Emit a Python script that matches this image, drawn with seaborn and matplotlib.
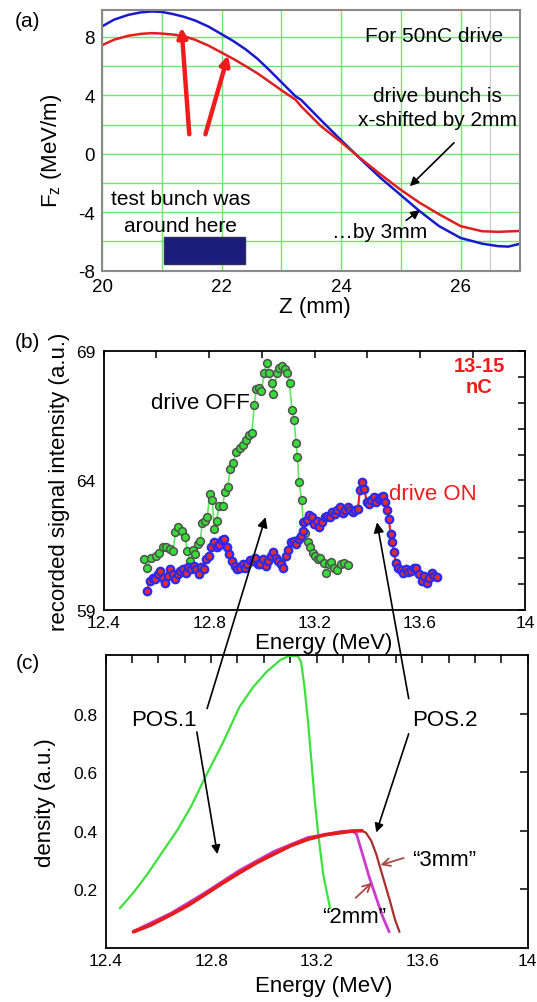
import matplotlib
matplotlib.use("Agg")
import matplotlib.pyplot as plt
from matplotlib.patches import ConnectionPatch, Rectangle
from matplotlib.ticker import MultipleLocator, FixedLocator, FormatStrFormatter
import seaborn as sns

# ---------- (a) longitudinal field vs z ----------
z_3mm = [20.0, 20.2, 20.44, 20.65, 20.83, 21.0, 21.17, 21.36, 21.56, 21.78, 22.0, 22.2,
         22.4, 22.6, 22.79, 23.0, 23.24, 23.33, 23.66, 24.0, 24.32, 24.65, 24.98, 25.31,
         25.64, 26.0, 26.36, 26.63, 26.8, 27.0]
fz_3mm = [8.71, 9.17, 9.50, 9.67, 9.73, 9.70, 9.57, 9.38, 9.11, 8.70, 8.18, 7.70,
          7.15, 6.50, 5.76, 4.90, 3.92, 3.69, 2.31, 0.93, -0.34, -1.61, -2.76, -3.91,
          -4.95, -5.76, -6.15, -6.32, -6.35, -6.15]
z_2mm = [20.0, 20.2, 20.44, 20.65, 20.83, 21.0, 21.22, 21.4, 21.56, 21.78, 22.0, 22.2,
         22.4, 22.6, 22.79, 23.0, 23.24, 23.33, 23.66, 24.0, 24.32, 24.65, 24.98, 25.31,
         25.64, 26.0, 26.36, 26.63, 26.88, 27.0]
fz_2mm = [7.42, 7.80, 8.07, 8.20, 8.25, 8.22, 8.14, 8.00, 7.79, 7.40, 6.92, 6.48,
          6.00, 5.50, 4.96, 4.35, 3.69, 3.25, 1.90, 0.80, -0.30, -1.38, -2.41, -3.34,
          -4.14, -4.95, -5.30, -5.34, -5.30, -5.28]

# ---------- (b) measured spectra ----------
e_off = [12.552, 12.565, 12.578, 12.598, 12.611, 12.624, 12.637, 12.650, 12.663, 12.672,
         12.682, 12.695, 12.708, 12.717, 12.728, 12.737, 12.747, 12.758, 12.767, 12.773,
         12.784, 12.793, 12.802, 12.812, 12.819, 12.828, 12.838, 12.851, 12.860, 12.871,
         12.880, 12.890, 12.903, 12.916, 12.929, 12.940, 12.952, 12.962, 12.971, 12.979,
         12.988, 12.997, 13.010, 13.018, 13.027, 13.037, 13.044, 13.057, 13.066, 13.075,
         13.086, 13.096, 13.105, 13.114, 13.122, 13.130, 13.135, 13.141, 13.151, 13.157,
         13.164, 13.174, 13.183, 13.193, 13.203, 13.213, 13.222, 13.235, 13.244, 13.255,
         13.264, 13.274, 13.287, 13.300, 13.313, 13.326]
s_off = [60.98, 60.63, 60.99, 61.08, 61.21, 61.41, 61.43, 61.34, 61.28, 61.99,
         62.21, 62.06, 61.82, 61.28, 60.89, 61.30, 61.15, 61.56, 61.67, 62.34,
         62.45, 62.58, 63.49, 63.23, 62.12, 62.45, 63.03, 63.03, 63.55, 63.75,
         64.46, 64.66, 65.11, 65.24, 65.37, 65.57, 65.76, 65.83, 66.93, 67.52,
         67.58, 67.45, 68.17, 68.56, 68.17, 67.78, 67.36, 68.17, 68.36, 68.43,
         68.32, 68.14, 67.78, 66.74, 66.35, 65.44, 64.92, 63.94, 63.23, 62.38,
         61.95, 61.60, 61.41, 61.21, 61.08, 60.95, 60.99, 60.82, 60.43, 60.76,
         60.86, 60.63, 60.52, 60.76, 60.82, 60.73]

e_on = [12.565, 12.574, 12.585, 12.594, 12.604, 12.613, 12.624, 12.634, 12.643, 12.652,
        12.663, 12.672, 12.682, 12.691, 12.702, 12.711, 12.721, 12.730, 12.741, 12.750,
        12.760, 12.769, 12.780, 12.789, 12.799, 12.808, 12.819, 12.828, 12.838, 12.849,
        12.858, 12.867, 12.877, 12.888, 12.898, 12.907, 12.916, 12.927, 12.936, 12.945,
        12.955, 12.965, 12.975, 12.984, 12.994, 13.005, 13.014, 13.023, 13.033, 13.043,
        13.053, 13.062, 13.073, 13.082, 13.092, 13.101, 13.112, 13.121, 13.131, 13.140,
        13.148, 13.157, 13.161, 13.170, 13.180, 13.190, 13.199, 13.209, 13.218, 13.229,
        13.239, 13.248, 13.257, 13.268, 13.277, 13.287, 13.298, 13.307, 13.317, 13.326,
        13.335, 13.346, 13.355, 13.365, 13.372, 13.381, 13.389, 13.398, 13.407, 13.415,
        13.424, 13.433, 13.443, 13.452, 13.460, 13.469, 13.476, 13.482, 13.489, 13.495,
        13.502, 13.508, 13.517, 13.528, 13.537, 13.547, 13.556, 13.567, 13.576, 13.586,
        13.595, 13.606, 13.615, 13.625, 13.634, 13.645, 13.654, 13.664]
s_on = [59.74, 60.11, 60.24, 60.17, 60.37, 60.50, 60.24, 60.04, 60.30, 60.56,
        60.37, 60.17, 60.37, 60.50, 60.56, 60.43, 60.65, 60.56, 60.69, 60.56,
        60.37, 60.65, 60.56, 60.95, 61.08, 61.41, 61.60, 61.41, 61.51, 61.69,
        61.73, 61.41, 61.15, 60.89, 60.69, 60.56, 60.60, 60.76, 60.63, 60.78,
        60.91, 60.89, 60.99, 60.78, 60.76, 60.95, 60.69, 60.89, 61.08, 61.25,
        60.99, 60.89, 60.78, 60.63, 61.08, 61.30, 61.60, 61.67, 61.54, 61.73,
        61.86, 62.03, 62.38, 62.47, 62.68, 62.58, 62.32, 62.42, 62.21, 62.38,
        62.58, 62.64, 62.58, 62.77, 62.71, 62.84, 62.97, 62.73, 62.84, 62.99,
        62.84, 62.77, 62.86, 62.90, 63.64, 63.94, 63.68, 63.16, 63.10, 63.23,
        63.36, 63.16, 63.29, 63.36, 63.38, 63.16, 62.84, 62.49, 61.93, 61.60,
        61.25, 60.82, 60.63, 60.52, 60.43, 60.56, 60.47, 60.50, 60.63, 60.60,
        60.39, 60.11, 60.30, 60.04, 60.24, 60.43, 60.30, 60.26]

# ---------- (c) simulated densities ----------
e_pos1 = [12.454, 12.506, 12.558, 12.610, 12.675, 12.726, 12.778, 12.843, 12.908, 12.960,
          13.011, 13.063, 13.096, 13.128, 13.141, 13.154, 13.167, 13.180, 13.193, 13.206,
          13.225, 13.251]
d_pos1 = [0.135, 0.189, 0.251, 0.320, 0.406, 0.486, 0.583, 0.697, 0.823, 0.891,
          0.943, 0.983, 0.997, 0.997, 0.977, 0.891, 0.777, 0.640, 0.503, 0.389,
          0.251, 0.135]
e_c3 = [12.506, 12.571, 12.649, 12.714, 12.778, 12.843, 12.908, 12.973, 13.037, 13.102,
        13.167, 13.232, 13.296, 13.335, 13.372, 13.387, 13.407, 13.426, 13.452, 13.478,
        13.497, 13.514]
d_c3 = [0.055, 0.078, 0.114, 0.146, 0.183, 0.221, 0.257, 0.291, 0.320, 0.349,
        0.371, 0.386, 0.394, 0.399, 0.400, 0.393, 0.366, 0.320, 0.240, 0.160,
        0.097, 0.055]
e_c2 = [12.506, 12.649, 12.778, 12.908, 13.037, 13.167, 13.296, 13.335, 13.351, 13.374,
        13.400, 13.426, 13.452, 13.475]
d_c2 = [0.057, 0.119, 0.189, 0.265, 0.329, 0.377, 0.398, 0.399, 0.389, 0.320,
        0.240, 0.171, 0.103, 0.055]


sns.set_style("white")
plt.rcParams["font.family"] = ["Liberation Sans", "DejaVu Sans"]
plt.rcParams["mathtext.fontset"] = "custom"
plt.rcParams["mathtext.rm"] = "Liberation Sans"
plt.rcParams["mathtext.it"] = "Liberation Sans"
plt.rcParams["axes.unicode_minus"] = False
for key in ["text.color", "axes.labelcolor", "xtick.color", "ytick.color"]:
    plt.rcParams[key] = "black"

TICK_A = 13.5
TICK = 12.5
LAB = 16

fig = plt.figure(figsize=(5.37, 10.03), dpi=100)
ax_a = fig.add_axes([0.190, 0.7291, 0.779, 0.2602])
ax_b = fig.add_axes([0.1933, 0.3911, 0.7849, 0.2578])
ax_c = fig.add_axes([0.1965, 0.0539, 0.7862, 0.2921])

# ---------------- panel (a) ----------------
ax_a.set_xlim(20, 27)
ax_a.set_ylim(-8, 9.85)
ax_a.xaxis.set_major_locator(FixedLocator([20, 22, 24, 26]))
ax_a.xaxis.set_minor_locator(FixedLocator([21, 23, 25]))
ax_a.yaxis.set_major_locator(FixedLocator([-8, -4, 0, 4, 8]))
ax_a.yaxis.set_minor_locator(FixedLocator([-6, -2, 2, 6]))
ax_a.grid(True, which="both", color="#6de86d", lw=1.0)
ax_a.set_axisbelow(True)
ax_a.axvline(26.5, color="#c8c8c8", lw=0.8, zorder=0.5)
ax_a.tick_params(which="both", length=0, labelsize=TICK_A, pad=5)
for sp in ax_a.spines.values():
    sp.set_color("#8a8a8a")
    sp.set_linewidth(1.5)

sns.lineplot(x=z_3mm, y=fz_3mm, ax=ax_a, color="#1a1acc", lw=1.8,
             estimator=None, sort=False)
sns.lineplot(x=z_2mm, y=fz_2mm, ax=ax_a, color="#dd2020", lw=1.8,
             estimator=None, sort=False)

ax_a.add_patch(Rectangle((21.04, -7.52), 1.36, 1.81, facecolor="#1c1c7c",
                         edgecolor="#303060", lw=1, zorder=3))
ax_a.text(21.31, -3.09, "test bunch was", ha="center", va="center", fontsize=15)
ax_a.text(21.31, -4.91, "around here", ha="center", va="center", fontsize=15)
ax_a.text(25.56, 8.07, "For 50nC drive", ha="center", va="center", fontsize=15)
ax_a.text(25.61, 4.0, "drive bunch is", ha="center", va="center", fontsize=15)
ax_a.text(25.61, 2.31, "x-shifted by 2mm", ha="center", va="center", fontsize=15)
ax_a.text(24.65, -5.3, "\u2026by 3mm", ha="center", va="center", fontsize=15)

red_arrow = dict(arrowstyle="-|>", color="#ee1c1c", lw=3.2, mutation_scale=14,
                 shrinkA=0, shrinkB=0)
ax_a.annotate("", xy=(21.33, 8.64), xytext=(21.46, 1.33), arrowprops=red_arrow)
ax_a.annotate("", xy=(22.11, 6.74), xytext=(21.73, 1.33), arrowprops=red_arrow)
blk_arrow = dict(arrowstyle="-|>", color="black", lw=1.2, mutation_scale=13,
                 shrinkA=0, shrinkB=0)
ax_a.annotate("", xy=(25.15, -2.22), xytext=(25.89, 0.75), arrowprops=blk_arrow)
ax_a.annotate("", xy=(25.32, -3.86), xytext=(25.09, -4.55), arrowprops=blk_arrow)

ax_a.set_xlabel("Z (mm)", fontsize=LAB)
ax_a.set_ylabel("F$_\\mathregular{z}$ (MeV/m)", fontsize=LAB)
ax_a.xaxis.set_label_coords(0.509, -0.097)
ax_a.yaxis.set_label_coords(-0.091, 0.462)


def box_ticks(ax, major_len, minor_len):
    ax.tick_params(which="both", direction="in", top=True, right=True,
                   labelsize=TICK, width=1.1, color="black")
    ax.tick_params(axis="x", which="both", pad=4)
    ax.tick_params(axis="y", which="both", pad=6)
    ax.tick_params(which="major", length=major_len)
    ax.tick_params(which="minor", length=minor_len)
    for sp in ax.spines.values():
        sp.set_color("black")
        sp.set_linewidth(1.3)


# ---------------- panel (b) ----------------
ax_b.set_xlim(12.4, 14.0)
ax_b.set_ylim(59, 69)
ax_b.xaxis.set_major_locator(FixedLocator([12.4, 12.8, 13.2, 13.6, 14.0]))
ax_b.xaxis.set_minor_locator(FixedLocator([12.6, 13.0, 13.4, 13.8]))
ax_b.xaxis.set_major_formatter(FormatStrFormatter("%g"))
ax_b.yaxis.set_major_locator(FixedLocator([59, 64, 69]))
ax_b.yaxis.set_minor_locator(MultipleLocator(1))
box_ticks(ax_b, 5, 5)

sns.lineplot(x=e_off, y=s_off, ax=ax_b, color="#5ee85e", lw=1.2, marker="o",
             markersize=5.6, markerfacecolor="#36dd36", markeredgecolor="#505050",
             markeredgewidth=1.1, estimator=None, sort=False)
sns.lineplot(x=e_on, y=s_on, ax=ax_b, color="#ee2020", lw=1.6, marker="o",
             markersize=5.4, markerfacecolor="#e62a2a", markeredgecolor="#2a2af0",
             markeredgewidth=1.6, estimator=None, sort=False)

ax_b.text(12.767, 67.0, "drive OFF", ha="center", va="center", fontsize=LAB)
ax_b.text(13.65, 63.49, "drive ON", ha="center", va="center", fontsize=LAB,
          color="#ee1c1c")
ax_b.text(13.825, 68.05, "13-15\nnC", ha="center", va="center", fontsize=14.5,
          color="#ee1c1c", fontweight="bold", linespacing=1.15)

ax_b.set_xlabel("Energy (MeV)", fontsize=LAB)
ax_b.set_ylabel("recorded signal intensity (a.u.)", fontsize=LAB)
ax_b.xaxis.set_label_coords(0.521, -0.088)
ax_b.yaxis.set_label_coords(-0.081, 0.5)

# ---------------- panel (c) ----------------
ax_c.set_xlim(12.4, 14.0)
ax_c.set_ylim(0, 1.0)
ax_c.xaxis.set_major_locator(FixedLocator([12.4, 12.8, 13.2, 13.6, 14.0]))
ax_c.xaxis.set_minor_locator(MultipleLocator(0.1))
ax_c.xaxis.set_major_formatter(FormatStrFormatter("%g"))
ax_c.yaxis.set_major_locator(FixedLocator([0.2, 0.4, 0.6, 0.8]))
ax_c.yaxis.set_major_formatter(FormatStrFormatter("%.1f"))
box_ticks(ax_c, 6, 6)

peak = d_c3.index(max(d_c3))
sns.lineplot(x=e_pos1, y=d_pos1, ax=ax_c, color="#3ee03e", lw=1.6,
             estimator=None, sort=False)
sns.lineplot(x=e_c2, y=d_c2, ax=ax_c, color="#cc3ccc", lw=2.0,
             estimator=None, sort=False)
sns.lineplot(x=e_c3, y=d_c3, ax=ax_c, color="#a8302a", lw=1.6,
             estimator=None, sort=False)
sns.lineplot(x=e_c3[:peak + 1], y=d_c3[:peak + 1], ax=ax_c, color="#e41c1c",
             lw=2.6, estimator=None, sort=False)

ax_c.text(12.623, 0.779, "POS.1", ha="center", va="center", fontsize=LAB)
ax_c.text(13.685, 0.779, "POS.2", ha="center", va="center", fontsize=LAB)
ax_c.text(13.685, 0.303, "\u201c3mm\u201d", ha="center", va="center", fontsize=LAB)
ax_c.text(13.342, 0.109, "\u201c2mm\u201d", ha="center", va="center", fontsize=LAB)
ax_c.annotate("", xy=(12.824, 0.32), xytext=(12.746, 0.737), arrowprops=blk_arrow)
ax_c.annotate("", xy=(13.426, 0.394), xytext=(13.549, 0.731), arrowprops=blk_arrow)
thin_red = dict(arrowstyle="->", color="#a84848", lw=1.3, mutation_scale=14,
                shrinkA=0, shrinkB=0)
ax_c.annotate("", xy=(13.442, 0.283), xytext=(13.53, 0.307), arrowprops=thin_red)
ax_c.annotate("", xy=(13.41, 0.223), xytext=(13.348, 0.171), arrowprops=thin_red)

ax_c.set_xlabel("Energy (MeV)", fontsize=LAB)
ax_c.set_ylabel("density (a.u.)", fontsize=LAB)
ax_c.xaxis.set_label_coords(0.517, -0.0915)
ax_c.yaxis.set_label_coords(-0.118, 0.5)

# arrows linking simulated positions (c) to measured spectra (b)
for tail, head in [((12.785, 0.817), (13.014, 62.58)),
                   ((13.549, 0.851), (13.437, 62.38))]:
    con = ConnectionPatch(xyA=tail, coordsA=ax_c.transData,
                          xyB=head, coordsB=ax_b.transData,
                          arrowstyle="-|>", color="black", lw=1.2,
                          mutation_scale=15, shrinkA=0, shrinkB=0, zorder=10)
    fig.add_artist(con)

fig.text(0.051, 0.979, "(a)", fontsize=15, ha="center", va="center")
fig.text(0.051, 0.659, "(b)", fontsize=15, ha="center", va="center")
fig.text(0.051, 0.338, "(c)", fontsize=15, ha="center", va="center")

fig.savefig("out.png", dpi=100)
